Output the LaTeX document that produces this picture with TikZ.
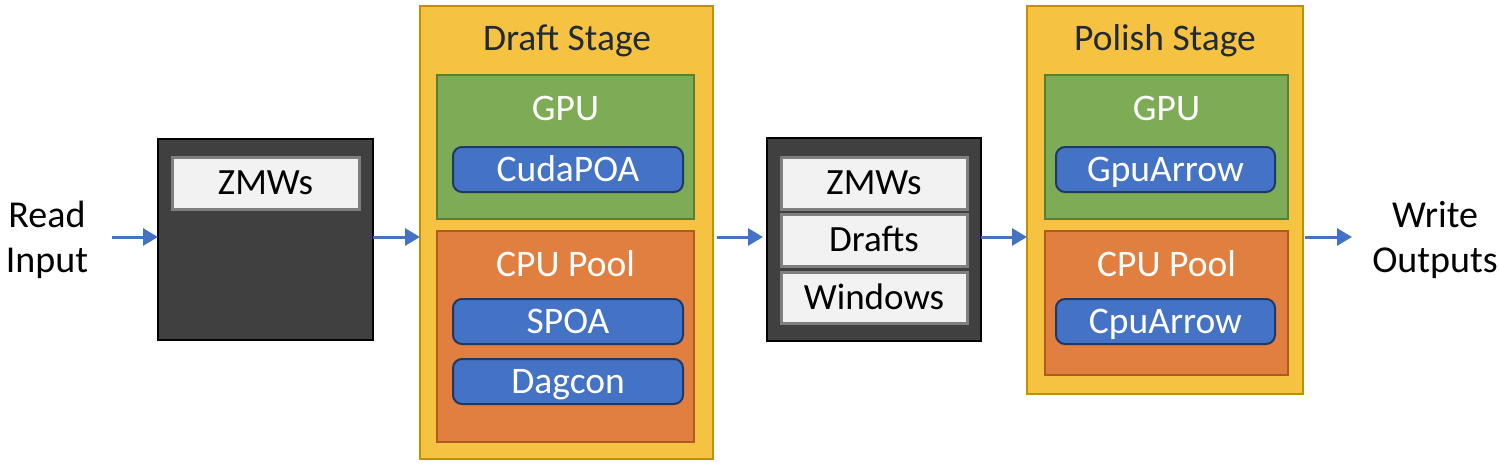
\documentclass[tikz,border=0pt]{standalone}
\usepackage{fontspec}
\setmainfont{Carlito}
\usetikzlibrary{arrows.meta}
\definecolor{stageY}{HTML}{F5C242}
\definecolor{stageYB}{HTML}{BF9000}
\definecolor{gpuG}{HTML}{7EAB55}
\definecolor{gpuGB}{HTML}{548235}
\definecolor{cpuO}{HTML}{E07F3F}
\definecolor{cpuOB}{HTML}{AE5A21}
\definecolor{algB}{HTML}{4472C4}
\definecolor{algBB}{HTML}{203864}
\definecolor{bufK}{HTML}{404040}
\definecolor{itemW}{HTML}{F2F2F2}
\definecolor{itemWB}{HTML}{7F7F7F}
\definecolor{titleC}{HTML}{222A35}
\definecolor{arrC}{HTML}{4472C4}
\tikzset{
  bx/.style={rectangle, inner sep=0pt, outer sep=0pt},
  stagebox/.style={bx, fill=stageY, draw=stageYB, line width=1.5pt},
  gpubox/.style={bx, fill=gpuG, draw=gpuGB, line width=1.8pt},
  cpubox/.style={bx, fill=cpuO, draw=cpuOB, line width=1.8pt},
  algbox/.style={bx, fill=algB, draw=algBB, line width=2pt, rounded corners=9pt,
     text=white, font=\fontsize{37.5}{45}\selectfont, text height=24pt, text depth=0pt},
  bufbox/.style={bx, fill=bufK, draw=black, line width=1.5pt},
  itembox/.style={bx, fill=itemW, draw=itemWB, line width=3pt,
     text=black, font=\fontsize{37}{45}\selectfont, text height=23.8pt, text depth=0pt},
  ttl/.style={inner sep=0pt, anchor=base, text=titleC, font=\fontsize{37.5}{45}\selectfont},
  wttl/.style={inner sep=0pt, anchor=base, text=white, font=\fontsize{37.5}{45}\selectfont},
  io/.style={inner sep=0pt, align=center, font=\fontsize{38}{45}\selectfont},
  flow/.style={draw=arrC, line width=3pt, -{Triangle[length=15pt,width=17pt]}},
}
\begin{document}
\begin{tikzpicture}[x=1pt,y=-1pt]
\useasboundingbox (0,0) rectangle (1500,464);
% input / output labels
\node[io] (rin) at (47,240) {Read\\Input};
\node[io] (wout) at (1435,240) {Write\\Outputs};
% first buffer
\node[bufbox, minimum width=215pt, minimum height=201pt] (buf1) at (265.5,239.5) {};
\node[itembox, minimum width=187pt, minimum height=52pt] (zmw1) at (265.5,183) {ZMWs};
% draft stage
\node[stagebox, minimum width=293pt, minimum height=453pt] (draft) at (566.5,232.5) {};
\node[ttl] (drafttl) at (567,50) {Draft Stage};
\node[gpubox, minimum width=257pt, minimum height=144pt] (dgpu) at (565.5,147) {};
\node[wttl] (dgputl) at (565.5,120) {GPU};
\node[algbox, minimum width=230pt, minimum height=45pt] (dcuda) at (568,169.5) {CudaPOA};
\node[cpubox, minimum width=257pt, minimum height=211pt] (dcpu) at (565.5,336.5) {};
\node[wttl] (dcputl) at (565.5,276) {CPU Pool};
\node[algbox, minimum width=230pt, minimum height=45pt] (dspoa) at (568,321.5) {SPOA};
\node[algbox, minimum width=230pt, minimum height=45pt] (ddag) at (568,381.5) {Dagcon};
% second buffer
\node[bufbox, minimum width=214pt, minimum height=203pt] (buf2) at (874,239.5) {};
\node[itembox, minimum width=186pt, minimum height=52pt] (zmw2) at (874,183) {ZMWs};
\node[itembox, minimum width=186pt, minimum height=52pt] (drafts) at (874,240) {Drafts};
\node[itembox, minimum width=186pt, minimum height=51pt] (wins) at (874,297.5) {Windows};
% polish stage
\node[stagebox, minimum width=276pt, minimum height=388pt] (polish) at (1165,200) {};
\node[ttl] (polishtl) at (1165,50) {Polish Stage};
\node[gpubox, minimum width=243pt, minimum height=144pt] (pgpu) at (1166.5,147) {};
\node[wttl] (pgputl) at (1166.5,120) {GPU};
\node[algbox, minimum width=219pt, minimum height=45pt] (pgarr) at (1165.5,169.5) {GpuArrow};
\node[cpubox, minimum width=243pt, minimum height=144pt] (pcpu) at (1166.5,303) {};
\node[wttl] (pcputl) at (1166.5,276) {CPU Pool};
\node[algbox, minimum width=219pt, minimum height=45pt] (pcarr) at (1165.5,321.5) {CpuArrow};
% connectors
\coordinate (a0) at (112,237);
\coordinate (a5end) at (1352,237);
\draw[flow] (a0) -- (buf1.west |- a0);
\draw[flow] (buf1.east |- a0) -- (draft.west |- a0);
\draw[flow, shorten <=4pt, shorten >=4pt] (draft.east |- a0) -- (buf2.west |- a0);
\draw[flow] (buf2.east |- a0) -- (polish.west |- a0);
\draw[flow, shorten <=2pt] (polish.east |- a0) -- (a5end);
\end{tikzpicture}
\end{document}
